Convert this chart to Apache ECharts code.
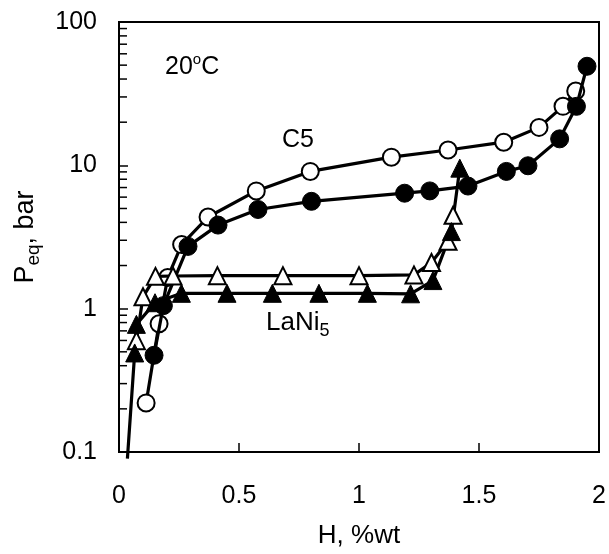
<!DOCTYPE html>
<html>
<head>
<meta charset="utf-8">
<script src="https://cdn.jsdelivr.net/npm/echarts@6/dist/echarts.min.js"></script>
<style>
html,body{margin:0;padding:0;background:#fff;}
#chart{width:609px;height:554px;}
</style>
</head>
<body>
<div id="chart"></div>
<script>
// ---- data ----
var xTicks = [0, 0.5, 1, 1.5, 2];
var yTicks = [0.1, 1, 10, 100];
var yMinorTicks = [0.2,0.3,0.4,0.5,0.6,0.7,0.8,0.9,2,3,4,5,6,7,8,9,20,30,40,50,60,70,80,90];

var openCircleX = [0.113, 0.167, 0.203, 0.261, 0.371, 0.572, 0.797, 1.135, 1.371, 1.603, 1.75, 1.85, 1.903];
var openCircleP = [0.22, 0.785, 1.65, 2.80, 4.36, 6.63, 9.07, 11.4, 12.8, 14.5, 18.4, 25.8, 33.0];

var filledCircleX = [0.146, 0.185, 0.2875, 0.4125, 0.579, 0.802, 1.19, 1.295, 1.454, 1.614, 1.704, 1.836, 1.906, 1.95];
var filledCircleP = [0.473, 1.05, 2.72, 3.83, 4.92, 5.61, 6.39, 6.63, 7.17, 9.07, 9.93, 15.3, 25.8, 49.1];

var openTriX = [0.0725, 0.1, 0.152, 0.225, 0.41, 0.683, 1.0, 1.229, 1.302, 1.371, 1.392];
var openTriP = [0.598, 1.21, 1.68, 1.69, 1.70, 1.70, 1.70, 1.72, 2.10, 2.95, 4.48];

var filledTriX = [0.035, 0.0654, 0.0725, 0.15, 0.26, 0.45, 0.639, 0.833, 1.035, 1.215, 1.308, 1.385, 1.42];
var filledTriP = [0.09, 0.491, 0.777, 1.1, 1.28, 1.28, 1.28, 1.28, 1.28, 1.27, 1.57, 3.45, 9.56];

var FONT = '"Liberation Sans", Arial, sans-serif';

function pairs(xs, ys) {
  return xs.map(function (x, i) { return [x, ys[i]]; });
}

var filledTriData = pairs(filledTriX, filledTriP).map(function (p, i) {
  return i === 0 ? { value: p, symbol: 'none' } : p;
});

var chart = echarts.init(document.getElementById('chart'), null, { renderer: 'canvas' });

var option = {
  animation: false,
  backgroundColor: '#fff',
  grid: {
    left: 119, right: 10, top: 22, bottom: 92,
    show: true, borderColor: '#000', borderWidth: 2, backgroundColor: 'transparent'
  },
  xAxis: {
    type: 'value', min: 0, max: 2, interval: 0.5,
    name: 'H, %wt', nameLocation: 'middle', nameGap: 71,
    nameTextStyle: { fontFamily: FONT, fontSize: 26, color: '#000' },
    axisLine: { lineStyle: { color: '#000', width: 2 } },
    axisTick: { inside: true, length: 9, lineStyle: { color: '#000', width: 1.5 } },
    axisLabel: {
      margin: 32, fontFamily: FONT, fontSize: 25, color: '#000',
      formatter: function (v) { return String(v); }
    },
    splitLine: { show: false }
  },
  yAxis: {
    type: 'log', logBase: 10, min: 0.1, max: 100,
    name: '{a|P}{s|eq}{a|, bar}', nameLocation: 'middle', nameGap: 76,
    nameTextStyle: {
      color: '#000',
      rich: {
        a: { fontFamily: FONT, fontSize: 27, color: '#000', lineHeight: 34, verticalAlign: 'middle' },
        s: { fontFamily: FONT, fontSize: 19, color: '#000', lineHeight: 34, verticalAlign: 'bottom' }
      }
    },
    axisLine: { lineStyle: { color: '#000', width: 2 } },
    axisTick: { inside: true, length: 9, lineStyle: { color: '#000', width: 1.5 } },
    minorTick: { show: false },
    axisLabel: {
      margin: 22, fontFamily: FONT, fontSize: 25, color: '#000',
      formatter: function (v) {
        var idx = yTicks.indexOf(+v.toPrecision(3));
        return idx >= 0 ? String(yTicks[idx]) : String(v);
      }
    },
    splitLine: { show: false }
  },
  graphic: [
    {
      type: 'text', left: 165, top: 52,
      style: {
        text: '{a|20}{o|o}{a|C}',
        rich: {
          a: { fontFamily: FONT, fontSize: 25, fill: '#000', lineHeight: 28, verticalAlign: 'bottom' },
          o: { fontFamily: FONT, fontSize: 15, fill: '#000', lineHeight: 28, verticalAlign: 'top' }
        }
      }
    },
    {
      type: 'text', left: 282, top: 128,
      style: { text: 'C5', fontFamily: FONT, fontSize: 25, fill: '#000' }
    },
    {
      type: 'text', left: 266, top: 310,
      style: {
        text: '{a|LaNi}{s|5}',
        rich: {
          a: { fontFamily: FONT, fontSize: 26, fill: '#000', lineHeight: 34, verticalAlign: 'middle' },
          s: { fontFamily: FONT, fontSize: 18, fill: '#000', lineHeight: 34, verticalAlign: 'bottom' }
        }
      }
    }
  ],
  series: [
    {
      type: 'custom',
      data: yMinorTicks.map(function (v) { return [0, v]; }),
      silent: true,
      z: 5,
      renderItem: function (params, api) {
        var p = api.coord([api.value(0), api.value(1)]);
        return {
          type: 'line',
          shape: { x1: p[0], y1: p[1], x2: p[0] + 8, y2: p[1] },
          style: { stroke: '#000', lineWidth: 1.5 }
        };
      }
    },
    {
      name: 'C5 open', type: 'line', clip: false,
      data: pairs(openCircleX, openCircleP),
      symbol: 'circle', symbolSize: 17,
      itemStyle: { color: '#fff', borderColor: '#000', borderWidth: 2 },
      lineStyle: { color: '#000', width: 3.2 },
      z: 2
    },
    {
      name: 'C5 filled', type: 'line', clip: false,
      data: pairs(filledCircleX, filledCircleP),
      symbol: 'circle', symbolSize: 18,
      itemStyle: { color: '#000', borderColor: '#000', borderWidth: 1 },
      lineStyle: { color: '#000', width: 3.2 },
      z: 3
    },
    {
      name: 'LaNi5 open', type: 'line', clip: false,
      data: pairs(openTriX, openTriP),
      symbol: 'triangle', symbolSize: 17,
      itemStyle: { color: '#fff', borderColor: '#000', borderWidth: 2 },
      lineStyle: { color: '#000', width: 3.2 },
      z: 4
    },
    {
      name: 'LaNi5 filled', type: 'line', clip: false,
      data: filledTriData,
      symbol: 'triangle', symbolSize: 18,
      itemStyle: { color: '#000', borderColor: '#000', borderWidth: 1 },
      lineStyle: { color: '#000', width: 3.2 },
      z: 4
    }
  ]
};

chart.setOption(option);
</script>
</body>
</html>
